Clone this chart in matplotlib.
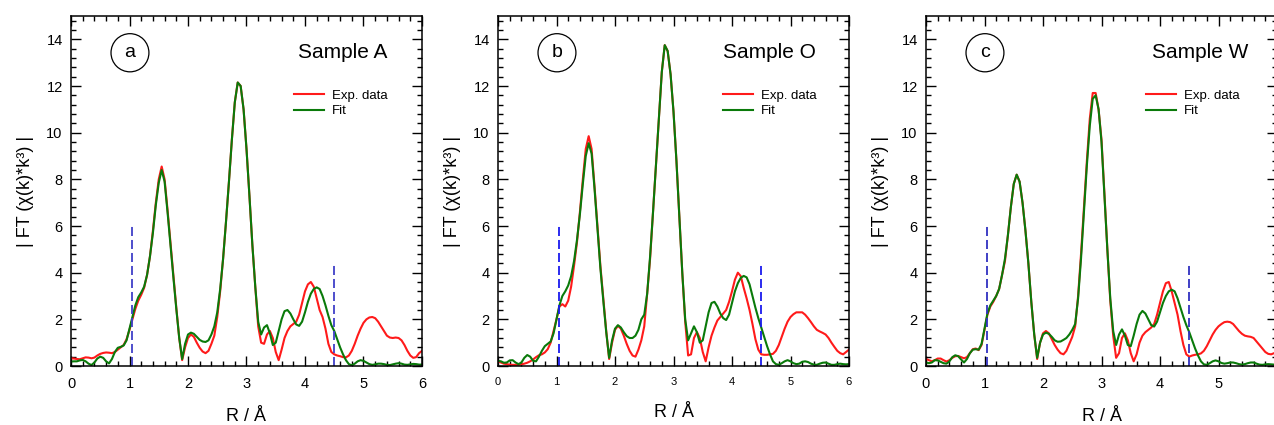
import numpy as np
import matplotlib
matplotlib.use("Agg")
import matplotlib.pyplot as plt
from matplotlib.patches import Ellipse
from matplotlib.ticker import MultipleLocator

plt.rcParams['font.family'] = ['Liberation Sans', 'DejaVu Sans']

# R grid (Angstrom), 0.05 step
R = np.round(np.arange(0, 6.001, 0.05), 2)

# Sample A
exp_a = [0.33, 0.32, 0.30, 0.29, 0.33, 0.37, 0.36, 0.33, 0.36, 0.45,
         0.52, 0.56, 0.58, 0.57, 0.55, 0.60, 0.70, 0.80, 0.90, 1.15,
         1.55, 2.00, 2.45, 2.80, 3.05, 3.35, 3.90, 4.70, 5.80, 7.00,
         8.00, 8.55, 8.00, 6.70, 5.30, 3.90, 2.50, 1.20, 0.25, 0.80,
         1.20, 1.35, 1.25, 1.00, 0.78, 0.62, 0.55, 0.65, 0.95, 1.30,
         2.10, 3.20, 4.60, 6.20, 7.90, 9.70, 11.30, 12.15, 12.00, 11.00,
         9.30, 7.30, 5.20, 3.40, 1.70, 1.00, 0.95, 1.35, 1.50, 1.20,
         0.60, 0.25, 0.70, 1.20, 1.50, 1.70, 1.80, 1.90, 2.20, 2.70,
         3.20, 3.50, 3.60, 3.40, 2.90, 2.40, 2.10, 1.60, 0.95, 0.60,
         0.50, 0.45, 0.42, 0.38, 0.37, 0.45, 0.65, 0.95, 1.30, 1.60,
         1.85, 2.00, 2.08, 2.10, 2.05, 1.90, 1.70, 1.50, 1.30, 1.22,
         1.20, 1.22, 1.20, 1.10, 0.90, 0.65, 0.45, 0.35, 0.38, 0.55,
         0.65]
fit_a = [0.19, 0.20, 0.20, 0.24, 0.26, 0.20, 0.10, 0.04, 0.15, 0.32,
         0.40, 0.35, 0.20, 0.11, 0.30, 0.60, 0.78, 0.82, 0.88, 1.10,
         1.60, 2.10, 2.60, 2.95, 3.15, 3.40, 3.90, 4.70, 5.70, 6.90,
         7.85, 8.40, 7.90, 6.60, 5.20, 3.80, 2.45, 1.20, 0.30, 0.95,
         1.35, 1.43, 1.38, 1.25, 1.12, 1.05, 1.03, 1.10, 1.35, 1.70,
         2.30, 3.30, 4.60, 6.20, 7.90, 9.70, 11.30, 12.15, 12.00, 11.00,
         9.30, 7.30, 5.20, 3.40, 1.90, 1.35, 1.65, 1.75, 1.40, 0.90,
         1.00, 1.50, 2.00, 2.35, 2.40, 2.25, 2.00, 1.78, 1.72, 1.90,
         2.30, 2.75, 3.10, 3.30, 3.37, 3.30, 3.00, 2.60, 2.15, 1.75,
         1.50, 1.15, 0.80, 0.50, 0.25, 0.08, 0.03, 0.10, 0.20, 0.25,
         0.22, 0.15, 0.08, 0.05, 0.07, 0.10, 0.10, 0.08, 0.05, 0.04,
         0.07, 0.10, 0.12, 0.10, 0.06, 0.05, 0.07, 0.09, 0.08, 0.06,
         0.06]

# Sample O
exp_b = [0.19, 0.15, 0.10, 0.08, 0.06, 0.05, 0.05, 0.05, 0.07, 0.10,
         0.14, 0.20, 0.28, 0.38, 0.46, 0.50, 0.58, 0.72, 1.00, 1.50,
         2.00, 2.55, 2.65, 2.55, 2.80, 3.40, 4.30, 5.30, 6.60, 8.00,
         9.30, 9.85, 9.30, 7.70, 6.00, 4.30, 2.90, 1.50, 0.30, 1.00,
         1.55, 1.72, 1.60, 1.30, 0.95, 0.65, 0.45, 0.40, 0.70, 1.10,
         1.70, 3.10, 4.60, 6.60, 8.60, 10.60, 12.60, 13.75, 13.50, 12.50,
         10.90, 8.80, 6.40, 4.00, 1.90, 0.45, 0.50, 1.20, 1.45, 1.20,
         0.60, 0.20, 0.80, 1.30, 1.65, 1.95, 2.10, 2.25, 2.40, 2.75,
         3.20, 3.70, 4.00, 3.85, 3.35, 2.90, 2.40, 1.80, 1.15, 0.70,
         0.50, 0.48, 0.48, 0.50, 0.52, 0.65, 0.90, 1.25, 1.60, 1.90,
         2.10, 2.22, 2.30, 2.30, 2.30, 2.20, 2.05, 1.88, 1.70, 1.55,
         1.48, 1.42, 1.35, 1.20, 1.00, 0.82, 0.65, 0.55, 0.50, 0.60,
         0.70]
fit_b = [0.22, 0.20, 0.14, 0.15, 0.24, 0.25, 0.15, 0.08, 0.15, 0.35,
         0.47, 0.40, 0.22, 0.20, 0.40, 0.65, 0.85, 0.95, 1.05, 1.40,
         2.00, 2.60, 3.00, 3.20, 3.45, 3.85, 4.50, 5.40, 6.50, 7.80,
         9.00, 9.55, 9.10, 7.60, 5.90, 4.20, 2.80, 1.45, 0.35, 1.10,
         1.60, 1.75, 1.65, 1.45, 1.28, 1.20, 1.20, 1.30, 1.55, 2.00,
         2.20, 3.10, 4.70, 6.60, 8.60, 10.60, 12.60, 13.75, 13.50, 12.50,
         10.90, 8.80, 6.40, 4.00, 2.00, 1.10, 1.40, 1.70, 1.45, 1.00,
         1.10, 1.70, 2.30, 2.70, 2.75, 2.55, 2.25, 2.05, 1.97, 2.20,
         2.70, 3.20, 3.55, 3.78, 3.86, 3.80, 3.50, 3.00, 2.50, 2.05,
         1.65, 1.25, 0.85, 0.50, 0.20, 0.08, 0.05, 0.12, 0.20, 0.25,
         0.20, 0.12, 0.08, 0.10, 0.18, 0.20, 0.17, 0.10, 0.06, 0.05,
         0.10, 0.14, 0.15, 0.10, 0.05, 0.05, 0.08, 0.10, 0.08, 0.07,
         0.08]

# Sample W
exp_c = [0.30, 0.25, 0.20, 0.25, 0.32, 0.32, 0.25, 0.19, 0.25, 0.35,
         0.42, 0.43, 0.38, 0.33, 0.38, 0.55, 0.72, 0.75, 0.68, 0.90,
         1.55, 2.20, 2.55, 2.75, 3.00, 3.30, 3.90, 4.50, 5.60, 6.80,
         7.80, 8.20, 7.90, 7.00, 5.80, 4.40, 2.75, 1.35, 0.30, 1.00,
         1.40, 1.50, 1.40, 1.15, 0.90, 0.70, 0.55, 0.50, 0.65, 0.95,
         1.25, 1.70, 3.00, 4.80, 6.80, 8.80, 10.60, 11.70, 11.70, 11.00,
         9.70, 7.40, 5.00, 2.80, 1.30, 0.35, 0.55, 1.20, 1.40, 1.10,
         0.55, 0.20, 0.50, 1.00, 1.30, 1.45, 1.55, 1.65, 1.80, 2.20,
         2.70, 3.20, 3.55, 3.60, 3.20, 2.70, 2.20, 1.50, 0.90, 0.50,
         0.40, 0.45, 0.48, 0.50, 0.54, 0.65, 0.85, 1.10, 1.35, 1.55,
         1.70, 1.80, 1.88, 1.90, 1.88, 1.80, 1.65, 1.50, 1.38, 1.30,
         1.27, 1.25, 1.20, 1.05, 0.90, 0.75, 0.60, 0.52, 0.50, 0.55,
         0.60]
fit_c = [0.15, 0.12, 0.15, 0.25, 0.24, 0.18, 0.12, 0.10, 0.20, 0.38,
         0.46, 0.42, 0.28, 0.15, 0.30, 0.55, 0.70, 0.72, 0.70, 0.95,
         1.60, 2.25, 2.60, 2.80, 3.00, 3.30, 3.90, 4.60, 5.60, 6.80,
         7.80, 8.20, 7.90, 7.00, 5.80, 4.40, 2.75, 1.35, 0.35, 1.00,
         1.35, 1.43, 1.38, 1.25, 1.10, 1.04, 1.05, 1.12, 1.20, 1.35,
         1.55, 1.80, 2.90, 4.60, 6.60, 8.60, 10.30, 11.45, 11.60, 11.00,
         9.60, 7.30, 5.00, 2.90, 1.50, 0.90, 1.35, 1.57, 1.30, 0.90,
         0.85, 1.30, 1.80, 2.20, 2.36, 2.25, 2.00, 1.75, 1.69, 1.90,
         2.30, 2.70, 3.00, 3.20, 3.27, 3.20, 2.90, 2.50, 2.10, 1.75,
         1.45, 1.10, 0.75, 0.45, 0.20, 0.07, 0.05, 0.12, 0.20, 0.24,
         0.20, 0.13, 0.10, 0.12, 0.15, 0.15, 0.12, 0.08, 0.06, 0.08,
         0.12, 0.15, 0.15, 0.10, 0.06, 0.05, 0.07, 0.08, 0.07, 0.06,
         0.06]

letters = ['a', 'b', 'c']
titles = ['Sample A', 'Sample O', 'Sample W']
exps = [exp_a, exp_b, exp_c]
fits = [fit_a, fit_b, fit_c]
# fitting window (R range) and heights of the dashed markers
win_lo = [1.05, 1.05, 1.05]
win_hi = [4.49, 4.50, 4.50]
win_lo_h = [6.0, 6.0, 6.0]
win_hi_h = [4.4, 4.4, 4.4]

W, H = 1274, 425
fig = plt.figure(figsize=(W / 100, H / 100), dpi=100)
lefts = [71, 498, 926]
title_x = [0.90, 0.905, 0.918]
leg_x = [0.635, 0.64, 0.627]
dash_col = ['#4040c8', '#1a1aee', '#3030c0']
xtick_fs = [10.5, 8, 10.5]

for i in range(3):
    ax = fig.add_axes([lefts[i] / W, 59 / H, 351 / W, 350 / H])
    ax.plot(R, exps[i], color='#ff1a1a', lw=1.5, label='Exp. data')
    ax.plot(R, fits[i], color='#0a7a0a', lw=1.5, label='Fit')
    ax.plot([win_lo[i], win_lo[i]], [0, win_lo_h[i]], color=dash_col[i],
            lw=1.3, ls=(0, (5, 2.2)))
    ax.plot([win_hi[i], win_hi[i]], [0, win_hi_h[i]], color=dash_col[i],
            lw=1.3, ls=(0, (5, 2.2)))
    ax.set_xlim(0, 6)
    ax.set_ylim(0, 15)
    ax.set_xticks([0, 1, 2, 3, 4, 5, 6])
    ax.set_yticks([0, 2, 4, 6, 8, 10, 12, 14])
    ax.xaxis.set_minor_locator(MultipleLocator(0.2))
    ax.yaxis.set_minor_locator(MultipleLocator(0.4))
    ax.tick_params(which='both', direction='in', top=True, right=True, width=1.0)
    ax.tick_params(which='major', length=7)
    ax.tick_params(which='minor', length=3.5)
    ax.tick_params(axis='x', labelsize=xtick_fs[i], pad=8)
    ax.tick_params(axis='y', labelsize=10.5, pad=6)
    for s in ax.spines.values():
        s.set_linewidth(1.1)
    ax.set_xlabel('R / Å', fontsize=13, labelpad=12)
    ax.set_ylabel('| FT (χ(k)*k³) |', fontsize=13, labelpad=9)
    ax.add_patch(Ellipse((0.168, 0.895), 0.108, 0.109, transform=ax.transAxes,
                         fill=False, ec='black', lw=0.9))
    ax.text(0.168, 0.895, letters[i], transform=ax.transAxes, fontsize=14,
            ha='center', va='center')
    ax.text(title_x[i], 0.895, titles[i], transform=ax.transAxes, fontsize=15,
            ha='right', va='center')
    ax.legend(frameon=False, fontsize=9.5, loc='upper left',
              bbox_to_anchor=(leg_x[i], 0.79), handlelength=2.3,
              handletextpad=0.6, labelspacing=0.25, borderpad=0, borderaxespad=0)

plt.savefig('out.png', dpi=100)
